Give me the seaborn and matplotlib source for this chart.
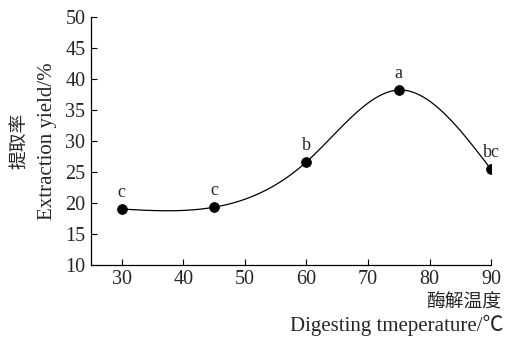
import numpy as np
import pandas as pd
import matplotlib
matplotlib.use("Agg")
import matplotlib.pyplot as plt
import seaborn as sns

# data
temperature = [30, 45, 60, 75, 90]
yield_pct = [19.0, 19.3, 26.6, 38.2, 25.4]
letters = ["c", "c", "b", "a", "bc"]
x_ticks = [30, 40, 50, 60, 70, 80, 90]
y_ticks = [10, 15, 20, 25, 30, 35, 40, 45, 50]


def natural_spline(x, y, n=300):
    """Natural cubic spline through the points (no scipy needed)."""
    x = np.asarray(x, float)
    y = np.asarray(y, float)
    k = len(x)
    h = np.diff(x)
    A = np.zeros((k, k))
    b = np.zeros(k)
    A[0, 0] = A[-1, -1] = 1
    for i in range(1, k - 1):
        A[i, i - 1] = h[i - 1]
        A[i, i] = 2 * (h[i - 1] + h[i])
        A[i, i + 1] = h[i]
        b[i] = 6 * ((y[i + 1] - y[i]) / h[i] - (y[i] - y[i - 1]) / h[i - 1])
    M = np.linalg.solve(A, b)
    xs = np.linspace(x[0], x[-1], n)
    idx = np.clip(np.searchsorted(x, xs) - 1, 0, k - 2)
    x0, x1 = x[idx], x[idx + 1]
    hh = x1 - x0
    t0 = x1 - xs
    t1 = xs - x0
    ys = (M[idx] * t0 ** 3 + M[idx + 1] * t1 ** 3) / (6 * hh) \
        + (y[idx] / hh - M[idx] * hh / 6) * t0 \
        + (y[idx + 1] / hh - M[idx + 1] * hh / 6) * t1
    return xs, ys


sns.set_style("ticks")
plt.rcParams['font.family'] = ['Liberation Serif', 'Noto Sans CJK SC']
plt.rcParams['xtick.direction'] = 'in'
plt.rcParams['ytick.direction'] = 'in'

fig = plt.figure(figsize=(5.11, 3.37), dpi=100)
ax = fig.add_axes([0.178, 0.214, 0.783, 0.736])

xs, ys = natural_spline(temperature, yield_pct)
curve = pd.DataFrame({"x": xs, "y": ys})
points = pd.DataFrame({"x": temperature, "y": yield_pct})

sns.lineplot(data=curve, x="x", y="y", ax=ax, color="black", linewidth=0.9)
sns.scatterplot(data=points, x="x", y="y", ax=ax, color="black", s=50,
                edgecolor="black", zorder=3)

for xv, yv, lab in zip(temperature, yield_pct, letters):
    ax.annotate(lab, (xv, yv), xytext=(0, 6), textcoords="offset points",
                ha="center", va="bottom", fontsize=13)

ax.set_xlim(25, 90)
ax.set_ylim(10, 50)
ax.set_xticks(x_ticks)
ax.set_yticks(y_ticks)
ax.tick_params(labelsize=14.5, length=4, width=0.8, color="black", pad=4)
for side in ["top", "right"]:
    ax.spines[side].set_visible(False)
for side in ["left", "bottom"]:
    ax.spines[side].set_linewidth(0.9)
    ax.spines[side].set_color("black")
ax.set_xlabel("")
ax.set_ylabel("")

# axis titles, Chinese over English
fig.text(0.040, 0.582, "提取率", rotation=90, ha="center", va="center", fontsize=13.5)
fig.text(0.092, 0.582, "Extraction yield/%", rotation=90, ha="center", va="center", fontsize=15)
fig.text(0.980, 0.100, "酶解温度", ha="right", va="center", fontsize=13.5)
fig.text(0.985, 0.035, "Digesting tmeperature/℃", ha="right", va="center", fontsize=15)

fig.savefig("out.png", dpi=100)
